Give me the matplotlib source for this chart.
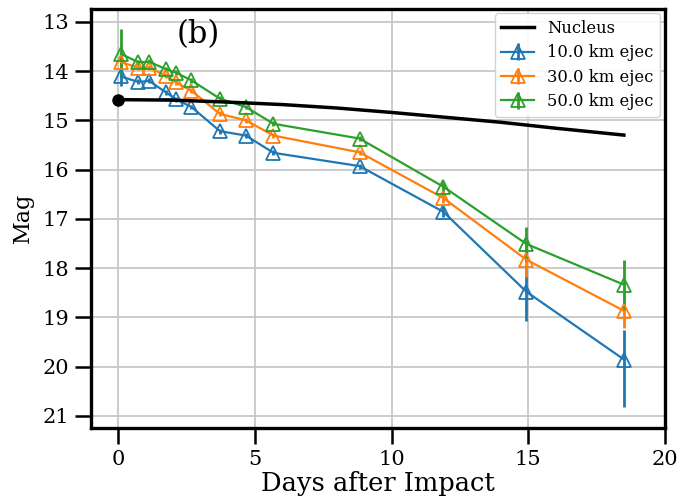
import matplotlib
matplotlib.use("Agg")
import matplotlib.pyplot as plt
import numpy as np

plt.rcParams['font.family'] = ['DejaVu Serif']

# Data
nuc_days = [0, 2, 4, 6, 8, 10, 12, 14, 16, 18.5]
nuc_mag = [14.58, 14.59, 14.63, 14.68, 14.75, 14.84, 14.94, 15.04, 15.16, 15.30]

days = [0.1, 0.73, 1.13, 1.74, 2.11, 2.68, 3.72, 4.67, 5.68, 8.83, 11.9, 14.93, 18.51]
mag10 = [14.11, 14.22, 14.20, 14.43, 14.57, 14.73, 15.22, 15.31, 15.66, 15.93, 16.86, 18.48, 19.86]
mag30 = [13.82, 13.93, 13.93, 14.09, 14.23, 14.40, 14.87, 15.00, 15.31, 15.65, 16.58, 17.83, 18.87]
mag50 = [13.65, 13.82, 13.81, 13.96, 14.03, 14.19, 14.56, 14.73, 15.07, 15.37, 16.35, 17.51, 18.34]

err10_lo = [0.15, 0.05, 0.05, 0.05, 0.05, 0.05, 0.05, 0.05, 0.05, 0.05, 0.1, 0.55, 0.6]
err10_hi = [0.2, 0.05, 0.05, 0.05, 0.05, 0.05, 0.05, 0.05, 0.05, 0.05, 0.1, 0.6, 0.97]
err30_lo = [0.1, 0.05, 0.05, 0.05, 0.05, 0.05, 0.05, 0.05, 0.05, 0.05, 0.1, 0.3, 0.3]
err30_hi = [0.1, 0.05, 0.05, 0.05, 0.05, 0.05, 0.05, 0.05, 0.05, 0.05, 0.1, 0.35, 0.35]
err50_lo = [0.5, 0.05, 0.05, 0.05, 0.05, 0.05, 0.05, 0.05, 0.05, 0.05, 0.1, 0.35, 0.5]
err50_hi = [0.4, 0.05, 0.05, 0.05, 0.05, 0.05, 0.05, 0.05, 0.05, 0.05, 0.1, 0.35, 0.5]

labels = ["10.0 km ejec", "30.0 km ejec", "50.0 km ejec"]
colors = ["#1f77b4", "#ff7f0e", "#2ca02c"]

fig = plt.figure(figsize=(6.94, 5.03), dpi=100)
ax = fig.add_axes([0.131, 0.149, 0.827, 0.834])

ax.plot(nuc_days, nuc_mag, color='black', lw=2.5, label='Nucleus', zorder=3)
ax.plot([nuc_days[0]], [nuc_mag[0]], 'o', color='black', ms=8, zorder=4)

for m, lo, hi, lab, c in zip([mag10, mag30, mag50],
                             [err10_lo, err30_lo, err50_lo],
                             [err10_hi, err30_hi, err50_hi], labels, colors):
    ax.errorbar(days, m, yerr=[lo, hi], color=c, marker='^', ms=10.5,
                mfc='none', mew=1.3, lw=1.6, elinewidth=2, label=lab, zorder=2)

ax.set_xlim(-1, 20)
ax.set_ylim(21.25, 12.73)
ax.set_xticks([0, 5, 10, 15, 20])
ax.set_yticks(range(13, 22))
ax.grid(True, color='#c8c8c8', lw=1.3)
ax.set_axisbelow(True)
for s in ax.spines.values():
    s.set_linewidth(2.4)
    s.set_color('black')
ax.tick_params(axis='both', which='major', length=11.5, width=1.8,
               labelsize=15, direction='out', color='black', pad=4)

ax.set_xlabel("Days after Impact", fontsize=18.5, labelpad=2)
ax.set_ylabel("Mag", fontsize=16, labelpad=6)
ax.text(0.15, 0.975, "(b)", transform=ax.transAxes, fontsize=22,
        ha='left', va='top')

leg = ax.legend(loc='upper right', fontsize=11.8, frameon=True,
                fancybox=True, framealpha=0.9, edgecolor='#d0d0d0',
                handlelength=2.0, borderpad=0.4, labelspacing=0.45,
                borderaxespad=0.3)

fig.savefig("out.png", dpi=100)
